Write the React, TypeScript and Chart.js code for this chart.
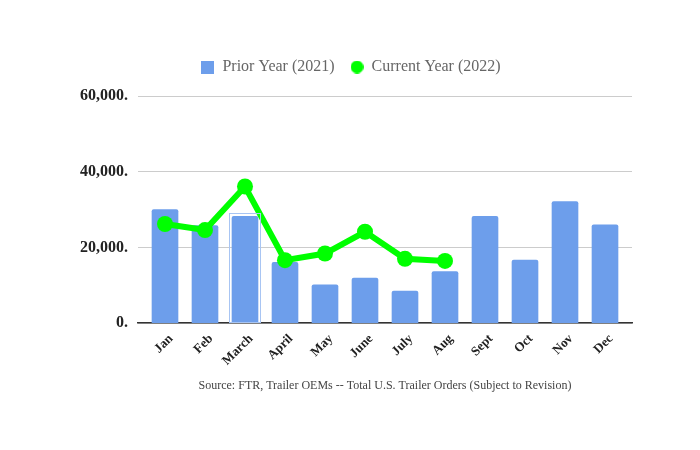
import React, { useEffect, useRef } from "react";
import { Chart, registerables } from "chart.js";

Chart.register(...registerables);

const months = ["Jan", "Feb", "March", "April", "May", "June", "July", "Aug", "Sept", "Oct", "Nov", "Dec"];
const priorYear = [30000, 25750, 28200, 16100, 10100, 11900, 8500, 13600, 28200, 16700, 32100, 26000];
const currentYear = [26200, 24600, 36100, 16650, 18400, 24150, 17000, 16450];
const yTicks = [0, 20000, 40000, 60000];
const highlightedIndex = 2;

const FONT = "'Liberation Serif', 'Times New Roman', serif";
const BAR_COLOR = "#6d9eeb";
const LINE_COLOR = "#00ff00";

function markerCanvas(kind: "rect" | "circle", color: string) {
  const size = 13;
  const c = document.createElement("canvas");
  c.width = size;
  c.height = size;
  const ctx = c.getContext("2d")!;
  ctx.fillStyle = color;
  if (kind === "rect") {
    ctx.fillRect(0, 0, size, size);
  } else {
    ctx.beginPath();
    ctx.arc(size / 2, size / 2, size / 2, 0, Math.PI * 2);
    ctx.fill();
  }
  return c;
}

const legendSpacer = {
  id: "legendSpacer",
  beforeInit(chart: any) {
    const orig = chart.legend.fit;
    chart.legend.fit = function () {
      orig.call(this);
      this.height += 11;
    };
  },
};

const highlight = {
  id: "highlight",
  afterDatasetsDraw(chart: any) {
    const meta = chart.getDatasetMeta(0);
    const el = meta.data[highlightedIndex];
    if (!el) return;
    const { x, y, base, width } = el.getProps(["x", "y", "base", "width"], true);
    const ctx = chart.ctx;
    ctx.save();
    ctx.strokeStyle = "#a8c5f3";
    ctx.lineWidth = 1;
    ctx.strokeRect(Math.round(x - width / 2 - 3) + 0.5, Math.round(y - 3) + 0.5, Math.round(width + 6) - 1, Math.round(base - y + 3));
    ctx.restore();
  },
};

export default function App() {
  const ref = useRef<HTMLCanvasElement | null>(null);
  useEffect(() => {
    if (!ref.current) return;
    const markers = [markerCanvas("rect", BAR_COLOR), markerCanvas("circle", LINE_COLOR)];
    const chart = new Chart(ref.current, {
      type: "bar",
      plugins: [legendSpacer, highlight],
      data: {
        datasets: [
          {
            type: "bar",
            label: "Prior Year (2021)",
            data: priorYear.map((v, i) => ({ x: i, y: v })),
            backgroundColor: BAR_COLOR,
            borderRadius: 2,
            borderSkipped: "bottom",
            barThickness: 26,
            order: 2,
          },
          {
            type: "line",
            label: "Current Year (2022)",
            data: currentYear.map((v, i) => ({ x: i, y: v })),
            borderColor: LINE_COLOR,
            backgroundColor: LINE_COLOR,
            borderWidth: 6,
            pointRadius: 8,
            pointBackgroundColor: LINE_COLOR,
            pointBorderWidth: 0,
            tension: 0,
            order: 1,
          },
        ] as any,
      },
      options: {
        animation: false,
        responsive: true,
        maintainAspectRatio: false,
        layout: { padding: { top: 35, left: 62, right: 60, bottom: 49 } },
        plugins: {
          tooltip: { enabled: false },
          legend: {
            position: "top",
            labels: {
              font: { family: FONT, size: 16 },
              color: "#666",
              usePointStyle: true,
              boxWidth: 13,
              boxHeight: 13,
              padding: 16,
              generateLabels: (c: any) =>
                c.data.datasets.map((d: any, i: number) => ({
                  text: d.label,
                  fillStyle: i === 0 ? BAR_COLOR : LINE_COLOR,
                  strokeStyle: i === 0 ? BAR_COLOR : LINE_COLOR,
                  lineWidth: 0,
                  pointStyle: markers[i],
                  datasetIndex: i,
                  hidden: false,
                  fontColor: "#666",
                })),
            },
          },
        },
        scales: {
          x: {
            type: "linear",
            offset: false,
            min: -0.675,
            max: 11.675,
            afterBuildTicks: (s: any) => {
              s.ticks = months.map((_, i) => ({ value: i }));
            },
            grid: { display: false, drawTicks: false },
            border: { display: true, color: "#333", width: 1.5 },
            ticks: {
              autoSkip: false,
              minRotation: 45,
              maxRotation: 45,
              padding: 8,
              labelOffset: 6,
              color: "#222",
              font: { family: FONT, size: 13, weight: "bold" },
              callback: (v: any) => months[v as number],
            },
            title: {
              display: true,
              text: "Source: FTR, Trailer OEMs -- Total U.S. Trailer Orders (Subject to Revision)",
              color: "#444",
              font: { family: FONT, size: 12 },
              padding: { top: 2, bottom: 0 },
            },
          },
          y: {
            min: 0,
            max: 60000,
            afterBuildTicks: (s: any) => {
              s.ticks = yTicks.map((v) => ({ value: v }));
            },
            grid: { color: "#cccccc", drawTicks: false },
            border: { display: false },
            ticks: {
              padding: 10,
              color: "#222",
              font: { family: FONT, size: 16, weight: "bold" },
              callback: (v: any) => Number(v).toLocaleString("en-US") + ".",
            },
          },
        },
      } as any,
    });
    return () => chart.destroy();
  }, []);
  return (
    <div style={{ width: 684, height: 434, position: "relative" }}>
      <canvas ref={ref} />
    </div>
  );
}
